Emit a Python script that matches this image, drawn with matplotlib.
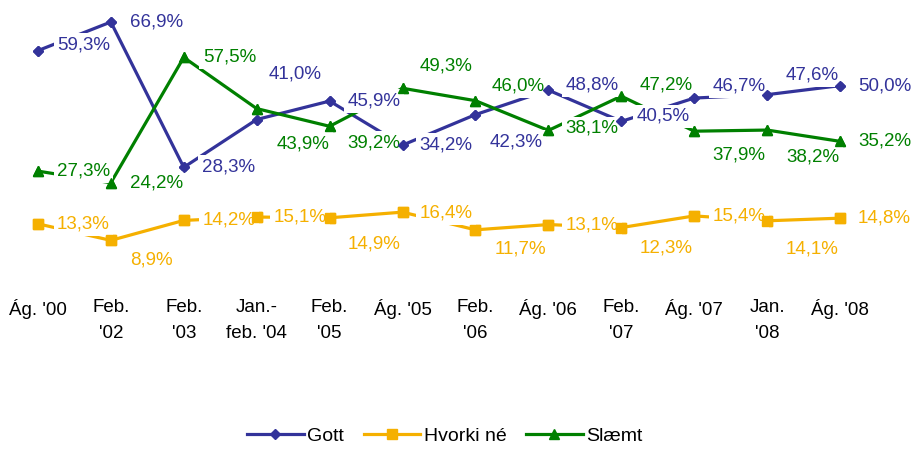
import matplotlib.pyplot as plt

plt.rcParams['font.family'] = ['Liberation Sans', 'DejaVu Sans']

kannanir = ["Ág. '00", "Feb.\n'02", "Feb.\n'03", "Jan.-\nfeb. '04", "Feb.\n'05", "Ág. '05",
            "Feb.\n'06", "Ág. '06", "Feb.\n'07", "Ág. '07", "Jan.\n'08", "Ág. '08"]
gott = [59.3, 66.9, 28.3, 41.0, 45.9, 34.2, 42.3, 48.8, 40.5, 46.7, 47.6, 50.0]
hvorki = [13.3, 8.9, 14.2, 15.1, 14.9, 16.4, 11.7, 13.1, 12.3, 15.4, 14.1, 14.8]
slaemt = [27.3, 24.2, 57.5, 43.9, 39.2, 49.3, 46.0, 38.1, 47.2, 37.9, 38.2, 35.2]

# tilfærsla merkimiða (pixlar) frá hverjum punkti
faersla_gott = [(19, 6), (19, 0), (18, 0), (12, 46), (18, 0), (17, 0),
                (14, -27), (17, 5), (15, 5), (18, 12), (18, 20), (18, 0)]
faersla_hvorki = [(19, 0), (19, -20), (19, 0), (17, 0), (18, -26), (17, -1),
                  (19, -19), (17, 0), (18, -20), (18, 0), (18, -28), (18, 0)]
faersla_slaemt = [(19, 0), (19, 0), (19, 0), (20, -35), (18, -17), (17, 22),
                  (16, 15), (17, 2), (18, 11), (18, -24), (19, -27), (18, 0)]

fig = plt.figure(figsize=(9.12, 4.49), dpi=100)
ax = fig.add_axes([0.0016, 0.39, 0.9595, 0.587])

x = list(range(len(kannanir)))
litir = {'Gott': '#33339a', 'Hvorki né': '#f5b000', 'Slæmt': '#008000'}
merki = {'Gott': ('D', 5.5), 'Hvorki né': ('s', 6.5), 'Slæmt': ('^', 6.5)}

for nafn, gildi in [('Gott', gott), ('Hvorki né', hvorki), ('Slæmt', slaemt)]:
    m, ms = merki[nafn]
    ax.plot(x, gildi, color=litir[nafn], lw=2.3, marker=m, ms=ms, label=nafn, zorder=2)
    # punktarnir sjálfir ofan á merkimiðunum
    ax.plot(x, gildi, ls='none', color=litir[nafn], marker=m, ms=ms, zorder=6)

# merkimiðar með hvítum bakgrunni sem skyggja á línurnar
for gildi, faersla, litur in [(gott, faersla_gott, litir['Gott']),
                              (hvorki, faersla_hvorki, litir['Hvorki né']),
                              (slaemt, faersla_slaemt, litir['Slæmt'])]:
    for i, v in enumerate(gildi):
        ax.annotate(f'{v:.1f}%'.replace('.', ','), (i, v), xytext=faersla[i],
                    textcoords='offset pixels', ha='left', va='center',
                    fontsize=13.5, color=litur, zorder=5, annotation_clip=False,
                    bbox=dict(boxstyle='square,pad=0.18', fc='white', ec='none'))

ax.set_xlim(-0.5, 11.5)
ax.set_ylim(0, 70)
ax.set_xticks(x)
ax.set_xticklabels(kannanir, fontsize=13.5, linespacing=1.7)
ax.tick_params(axis='x', length=0, pad=18)
ax.set_yticks([])
for s in ax.spines.values():
    s.set_visible(False)

fig.legend(loc='center', bbox_to_anchor=(445 / 912, 1 - 436 / 449), ncol=3, frameon=False,
           fontsize=14, handlelength=2.9, handletextpad=0.2, columnspacing=1.0)

fig.savefig('out.png', dpi=100)
